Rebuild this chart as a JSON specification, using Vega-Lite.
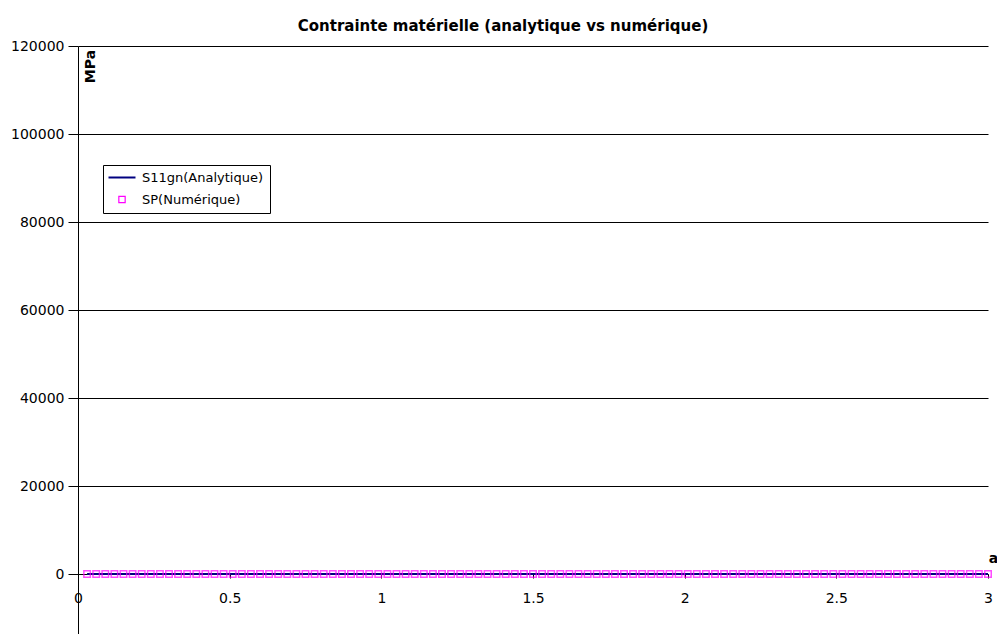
{
  "$schema": "https://vega.github.io/schema/vega-lite/v6.json",
  "autosize": {"type": "none"},
  "padding": {"left": 78, "top": 46, "right": 9, "bottom": 0},
  "width": 910,
  "height": 588,
  "background": "white",
  "title": {"text": "Contrainte matérielle (analytique vs numérique)", "font": "DejaVu Sans", "fontSize": 15, "fontWeight": "bold", "color": "black", "anchor": "middle", "dx": -30, "baseline": "alphabetic", "offset": -7},
  "config": {
    "view": {"stroke": null},
    "axis": {"labelFont": "DejaVu Sans", "titleFont": "DejaVu Sans", "labelColor": "black", "titleColor": "black", "domainColor": "black", "tickColor": "black"}
  },
  "data": {"values": [
    {"x":0.03,"analytique":0,"numerique":0},{"x":0.06,"analytique":0,"numerique":0},{"x":0.09,"analytique":0,"numerique":0},{"x":0.12,"analytique":0,"numerique":0},{"x":0.15,"analytique":0,"numerique":0},
    {"x":0.18,"analytique":0,"numerique":0},{"x":0.21,"analytique":0,"numerique":0},{"x":0.24,"analytique":0,"numerique":0},{"x":0.27,"analytique":0,"numerique":0},{"x":0.3,"analytique":0,"numerique":0},
    {"x":0.33,"analytique":0,"numerique":0},{"x":0.36,"analytique":0,"numerique":0},{"x":0.39,"analytique":0,"numerique":0},{"x":0.42,"analytique":0,"numerique":0},{"x":0.45,"analytique":0,"numerique":0},
    {"x":0.48,"analytique":0,"numerique":0},{"x":0.51,"analytique":0,"numerique":0},{"x":0.54,"analytique":0,"numerique":0},{"x":0.57,"analytique":0,"numerique":0},{"x":0.6,"analytique":0,"numerique":0},
    {"x":0.63,"analytique":0,"numerique":0},{"x":0.66,"analytique":0,"numerique":0},{"x":0.69,"analytique":0,"numerique":0},{"x":0.72,"analytique":0,"numerique":0},{"x":0.75,"analytique":0,"numerique":0},
    {"x":0.78,"analytique":0,"numerique":0},{"x":0.81,"analytique":0,"numerique":0},{"x":0.84,"analytique":0,"numerique":0},{"x":0.87,"analytique":0,"numerique":0},{"x":0.9,"analytique":0,"numerique":0},
    {"x":0.93,"analytique":0,"numerique":0},{"x":0.96,"analytique":0,"numerique":0},{"x":0.99,"analytique":0,"numerique":0},{"x":1.02,"analytique":0,"numerique":0},{"x":1.05,"analytique":0,"numerique":0},
    {"x":1.08,"analytique":0,"numerique":0},{"x":1.11,"analytique":0,"numerique":0},{"x":1.14,"analytique":0,"numerique":0},{"x":1.17,"analytique":0,"numerique":0},{"x":1.2,"analytique":0,"numerique":0},
    {"x":1.23,"analytique":0,"numerique":0},{"x":1.26,"analytique":0,"numerique":0},{"x":1.29,"analytique":0,"numerique":0},{"x":1.32,"analytique":0,"numerique":0},{"x":1.35,"analytique":0,"numerique":0},
    {"x":1.38,"analytique":0,"numerique":0},{"x":1.41,"analytique":0,"numerique":0},{"x":1.44,"analytique":0,"numerique":0},{"x":1.47,"analytique":0,"numerique":0},{"x":1.5,"analytique":0,"numerique":0},
    {"x":1.53,"analytique":0,"numerique":0},{"x":1.56,"analytique":0,"numerique":0},{"x":1.59,"analytique":0,"numerique":0},{"x":1.62,"analytique":0,"numerique":0},{"x":1.65,"analytique":0,"numerique":0},
    {"x":1.68,"analytique":0,"numerique":0},{"x":1.71,"analytique":0,"numerique":0},{"x":1.74,"analytique":0,"numerique":0},{"x":1.77,"analytique":0,"numerique":0},{"x":1.8,"analytique":0,"numerique":0},
    {"x":1.83,"analytique":0,"numerique":0},{"x":1.86,"analytique":0,"numerique":0},{"x":1.89,"analytique":0,"numerique":0},{"x":1.92,"analytique":0,"numerique":0},{"x":1.95,"analytique":0,"numerique":0},
    {"x":1.98,"analytique":0,"numerique":0},{"x":2.01,"analytique":0,"numerique":0},{"x":2.04,"analytique":0,"numerique":0},{"x":2.07,"analytique":0,"numerique":0},{"x":2.1,"analytique":0,"numerique":0},
    {"x":2.13,"analytique":0,"numerique":0},{"x":2.16,"analytique":0,"numerique":0},{"x":2.19,"analytique":0,"numerique":0},{"x":2.22,"analytique":0,"numerique":0},{"x":2.25,"analytique":0,"numerique":0},
    {"x":2.28,"analytique":0,"numerique":0},{"x":2.31,"analytique":0,"numerique":0},{"x":2.34,"analytique":0,"numerique":0},{"x":2.37,"analytique":0,"numerique":0},{"x":2.4,"analytique":0,"numerique":0},
    {"x":2.43,"analytique":0,"numerique":0},{"x":2.46,"analytique":0,"numerique":0},{"x":2.49,"analytique":0,"numerique":0},{"x":2.52,"analytique":0,"numerique":0},{"x":2.55,"analytique":0,"numerique":0},
    {"x":2.58,"analytique":0,"numerique":0},{"x":2.61,"analytique":0,"numerique":0},{"x":2.64,"analytique":0,"numerique":0},{"x":2.67,"analytique":0,"numerique":0},{"x":2.7,"analytique":0,"numerique":0},
    {"x":2.73,"analytique":0,"numerique":0},{"x":2.76,"analytique":0,"numerique":0},{"x":2.79,"analytique":0,"numerique":0},{"x":2.82,"analytique":0,"numerique":0},{"x":2.85,"analytique":0,"numerique":0},
    {"x":2.88,"analytique":0,"numerique":0},{"x":2.91,"analytique":0,"numerique":0},{"x":2.94,"analytique":0,"numerique":0},{"x":2.97,"analytique":0,"numerique":0},{"x":3.0,"analytique":0,"numerique":0}
  ]},
  "encoding": {
    "x": {"field": "x", "type": "quantitative",
      "scale": {"domain": [0, 3], "nice": false, "zero": false},
      "axis": {"values": [0, 0.5, 1, 1.5, 2, 2.5, 3], "format": "~g", "offset": -60, "grid": false,
        "labelFontSize": 14, "labelPadding": 13, "tickSize": 4, "domain": true, "labelFlush": false,
        "title": "a", "titleFontSize": 14, "titleFontWeight": "bold", "titleX": 915, "titleY": -12, "titleAlign": "center", "titleBaseline": "alphabetic"}}
  },
  "layer": [
    {
      "mark": {"type": "line", "strokeWidth": 2, "clip": false},
      "encoding": {
        "y": {"field": "analytique", "type": "quantitative",
          "scale": {"domain": [-13636.36, 120000], "nice": false, "zero": false},
          "axis": {"values": [0, 20000, 40000, 60000, 80000, 100000, 120000], "format": "d", "grid": true, "gridColor": "black", "gridOpacity": 1, "gridWidth": 1,
            "labelFontSize": 14, "labelPadding": 4, "tickSize": 10,
            "title": "MPa", "titleFontSize": 14, "titleFontWeight": "bold", "titleAngle": -90, "titleX": 16, "titleY": 20, "titleAlign": "center", "titleBaseline": "alphabetic"}},
        "color": {"datum": "S11gn(Analytique)", "type": "nominal",
          "scale": {"domain": ["S11gn(Analytique)", "SP(Numérique)"], "range": ["#000080", "#ff00ff"]},
          "legend": {"orient": "none", "legendX": 25, "legendY": 119, "title": null,
            "strokeColor": "black", "fillColor": "white", "padding": 6,
            "labelFont": "DejaVu Sans", "labelFontSize": 13, "labelColor": "black", "rowPadding": 8, "labelOffset": 4,
            "symbolSize": 700,
            "encode": {
              "symbols": {"update": {
                "x": {"value": 13},
                "shape": {"signal": "datum.value === 'SP(Numérique)' ? 'square' : 'stroke'"},
                "fill": {"value": "transparent"},
                "stroke": {"signal": "datum.value === 'SP(Numérique)' ? '#ff00ff' : '#000080'"},
                "strokeWidth": {"signal": "datum.value === 'SP(Numérique)' ? 1.2 : 2"},
                "size": {"signal": "datum.value === 'SP(Numérique)' ? 40 : 729"}
              }},
              "labels": {"update": {"x": {"value": 33}}}
            }}}
      }
    },
    {
      "mark": {"type": "point", "shape": "square", "filled": false, "size": 42, "strokeWidth": 1.5, "clip": false},
      "encoding": {
        "y": {"field": "numerique", "type": "quantitative"},
        "color": {"datum": "SP(Numérique)", "type": "nominal"}
      }
    }
  ]
}
